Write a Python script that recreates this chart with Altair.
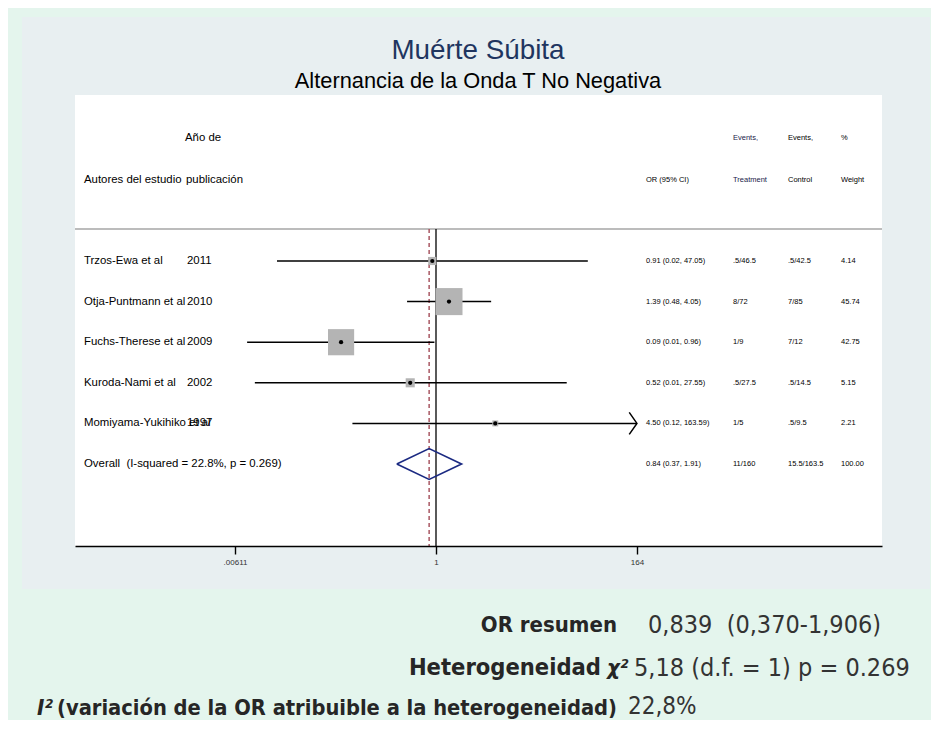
import math
import altair as alt
import pandas as pd

# ---------------- data ----------------
studies = ["Trzos-Ewa et al", "Otja-Puntmann et al", "Fuchs-Therese et al",
           "Kuroda-Nami et al", "Momiyama-Yukihiko et al"]
years = ["2011", "2010", "2009", "2002", "1997"]
or_vals = [0.91, 1.39, 0.09, 0.52, 4.50]
ci_low = [0.0177, 0.48, 0.0083, 0.0101, 0.12]
ci_high = [47.05, 4.05, 0.96, 27.55, 163.59]
events_treat = [".5/46.5", "8/72", "1/9", ".5/27.5", "1/5"]
events_ctrl = [".5/42.5", "7/85", "7/12", ".5/14.5", ".5/9.5"]
weights = [4.14, 45.74, 42.75, 5.15, 2.21]
arrow_right = [False, False, False, False, True]

overall_label = "Overall\u00a0 (I-squared = 22.8%, p = 0.269)"
overall_or = 0.84
overall_low = 0.37
overall_high = 1.91
overall_treat = "11/160"
overall_ctrl = "15.5/163.5"
overall_weight = 100.00

tick_values = [0.00611, 1, 164]
tick_labels = [".00611", "1", "164"]

title_main = "Muérte Súbita"
title_sub = "Alternancia de la Onda T No Negativa"

stat_labels = ["OR resumen", "Heterogeneidad", "(variación de la OR atribuible a la heterogeneidad)"]
stat_symbols = ["", "\u03c7\u00b2", "I\u00b2"]
stat_values = ["0,839\u00a0 (0,370-1,906)", "5,18 (d.f. = 1) p = 0.269", "22,8%"]

# ---------------- layout / style ----------------
W, H = 923, 712
GREEN = "#e4f5ed"
PANEL = "#e8eff1"
PLOT_L, PLOT_R, PLOT_T, PLOT_B = 67, 874, 87, 538
HEADER_Y = 221
ONE_PX = 428
TICK_SPAN_PX = 402
per_decade = TICK_SPAN_PX / (math.log10(tick_values[-1]) - math.log10(tick_values[0]))
x_lo = 10 ** ((PLOT_L - ONE_PX) / per_decade)
x_hi = 10 ** ((PLOT_R - ONE_PX) / per_decade)

GFONT = "Liberation Sans, Arial, sans-serif"
BFONT = "Liberation Sans Narrow, Arial Narrow, DejaVu Sans Condensed, sans-serif"

xscale = alt.Scale(type="log", domain=[x_lo, x_hi], range=[PLOT_L, PLOT_R], nice=False)
yscale = alt.Scale(domain=[1, 6], range=[253, 456], nice=False, zero=False)

label_expr = " : ".join(
    f"datum.value == {v} ? '{l}'" for v, l in zip(tick_values[:-1], tick_labels[:-1])
) + f" : '{tick_labels[-1]}'"

xaxis = alt.Axis(values=tick_values, labelExpr=label_expr, title=None, offset=PLOT_B - H,
                 tickSize=8, tickColor="black", tickWidth=1.4, domainColor="black",
                 domainWidth=1.4, labelFontSize=8, labelColor="#333333", labelPadding=4,
                 labelFont=GFONT, grid=False, labelFlush=False, labelOverlap=False, zindex=1)

# ---------------- tables ----------------
rows = list(range(1, len(studies) + 1))
studies_df = pd.DataFrame({
    "row": rows, "study": studies, "or": or_vals, "lo": ci_low, "hi": ci_high,
    "weight": weights, "arrow": arrow_right,
})

table_df = pd.DataFrame({
    "row": rows + [len(studies) + 1],
    "author": studies + [overall_label],
    "year": years + [""],
    "ortext": [f"{o:.2f} ({l:.2f}, {h:.2f})" for o, l, h in zip(or_vals, ci_low, ci_high)]
              + [f"{overall_or:.2f} ({overall_low:.2f}, {overall_high:.2f})"],
    "treat": events_treat + [overall_treat],
    "ctrl": events_ctrl + [overall_ctrl],
    "wt": [f"{w:.2f}" for w in weights] + [f"{overall_weight:.2f}"],
})

orow = len(studies) + 1
half = 0.38
diamond_df = pd.DataFrame({
    "x": [overall_low, overall_or, overall_high, overall_or, overall_low],
    "y": [orow, orow - half, orow, orow + half, orow],
    "o": [0, 1, 2, 3, 4],
})

one = pd.DataFrame({"k": [0]})

# ---------------- layers ----------------
def box(x, x2, y, y2, color):
    return alt.Chart(one).mark_rect(color=color).encode(
        x=alt.value(x), x2=alt.value(x2), y=alt.value(y), y2=alt.value(y2))

bg = box(14, 922, 9, 581, PANEL)
white = box(PLOT_L, PLOT_R, PLOT_T, PLOT_B, "white")

header_line = alt.Chart(one).mark_rule(color="#a6a6a6", strokeWidth=1.5).encode(
    x=alt.value(PLOT_L), x2=alt.value(PLOT_R), y=alt.value(HEADER_Y))

null_line = alt.Chart(one).mark_rule(color="black", strokeWidth=1.3).encode(
    x=alt.X(datum=1, scale=xscale, axis=xaxis), y=alt.value(HEADER_Y), y2=alt.value(PLOT_B))

ovl_line = alt.Chart(one).mark_rule(color="#a34c58", strokeWidth=1.4, strokeDash=[4, 3]).encode(
    x=alt.X(datum=overall_or, scale=xscale, axis=xaxis), y=alt.value(HEADER_Y), y2=alt.value(PLOT_B))

ci = alt.Chart(studies_df).mark_rule(color="black", strokeWidth=1.5).encode(
    x=alt.X("lo:Q", scale=xscale, axis=xaxis), x2="hi:Q",
    y=alt.Y("row:Q", scale=yscale, axis=None))

squares = alt.Chart(studies_df).mark_square(color="#b4b4b4", opacity=1).encode(
    x=alt.X("or:Q", scale=xscale, axis=xaxis),
    y=alt.Y("row:Q", scale=yscale, axis=None),
    size=alt.Size("weight:Q", scale=alt.Scale(domain=[0, 100], range=[0, 1600]), legend=None))

dots = alt.Chart(studies_df).mark_point(filled=True, color="black", size=18, opacity=1).encode(
    x=alt.X("or:Q", scale=xscale, axis=xaxis),
    y=alt.Y("row:Q", scale=yscale, axis=None))

arrows = alt.Chart(studies_df).transform_filter("datum.arrow").mark_point(
    shape="M -0.7 -1 L 0 0 L -0.7 1", filled=False, color="black", strokeWidth=1.5,
    size=484, opacity=1).encode(
    x=alt.X("hi:Q", scale=xscale, axis=xaxis),
    y=alt.Y("row:Q", scale=yscale, axis=None))

diamond = alt.Chart(diamond_df).mark_line(color="#1b2a82", strokeWidth=1.7, strokeJoin="miter").encode(
    x=alt.X("x:Q", scale=xscale, axis=xaxis),
    y=alt.Y("y:Q", scale=yscale, axis=None),
    order="o:Q")

def col_text(field, xpx, size, color="black"):
    return alt.Chart(table_df).mark_text(align="left", baseline="middle", font=GFONT,
                                         fontSize=size, color=color).encode(
        x=alt.value(xpx), y=alt.Y("row:Q", scale=yscale, axis=None), text=f"{field}:N")

t_author = col_text("author", 76, 11.4)
t_year = col_text("year", 179, 11.4)
t_or = col_text("ortext", 638, 7.5)
t_treat = col_text("treat", 725, 7.5)
t_ctrl = col_text("ctrl", 780, 7.5)
t_wt = col_text("wt", 833, 7.5)

def label(text, x, y, size, align="left", color="black", font=GFONT, weight="normal", style="normal"):
    return alt.Chart(one).mark_text(text=text, align=align, baseline="middle", font=font,
                                    fontSize=size, color=color, fontWeight=weight,
                                    fontStyle=style).encode(x=alt.value(x), y=alt.value(y))

headers = [
    label("Año de", 177, 130, 11.4),
    label("Autores del estudio", 76, 172, 11.4),
    label("publicación", 178, 172, 11.4),
    label("OR (95% CI)", 638, 172, 7.5),
    label("Events,", 725, 130, 7.5, color="#1a1a4a"),
    label("Treatment", 725, 172, 7.5, color="#1a1a4a"),
    label("Events,", 780, 130, 7.5),
    label("Control", 780, 172, 7.5),
    label("%", 833, 130, 7.5),
    label("Weight", 833, 172, 7.5),
]

titles = [
    label(title_main, 470, 43, 27.8, align="center", color="#1f3560"),
    label(title_sub, 470, 73, 21.8, align="center"),
]

STAT_C = "#262626"
VAL_C = "#333333"
stats = [
    label(stat_labels[0], 609, 617, 22, align="right", color=STAT_C, font=BFONT, weight="bold"),
    label(stat_values[0], 640, 617, 25, color=VAL_C, font=BFONT),
    label(stat_labels[1], 593, 660, 23.5, align="right", color=STAT_C, font=BFONT, weight="bold"),
    label(stat_symbols[1], 599, 660, 22, color=STAT_C, font=BFONT, weight="bold", style="italic"),
    label(stat_values[1], 626, 660, 25, color=VAL_C, font=BFONT),
    label(stat_symbols[2], 29, 700, 22, color=STAT_C, font=BFONT, weight="bold", style="italic"),
    label(stat_labels[2], 609, 700, 21.7, align="right", color=STAT_C, font=BFONT, weight="bold"),
    label(stat_values[2], 620, 699, 24, color=VAL_C, font=BFONT),
]

chart = alt.layer(
    bg, white, header_line, ovl_line, null_line, ci, squares, dots, arrows, diamond,
    t_author, t_year, t_or, t_treat, t_ctrl, t_wt, *headers, *titles, *stats,
).properties(
    width=W, height=H, padding=0,
    autosize=alt.AutoSizeParams(type="none"),
    background=GREEN,
).configure_view(stroke=None)

chart.save("out.html", embed_options={"renderer": "svg", "actions": False})
